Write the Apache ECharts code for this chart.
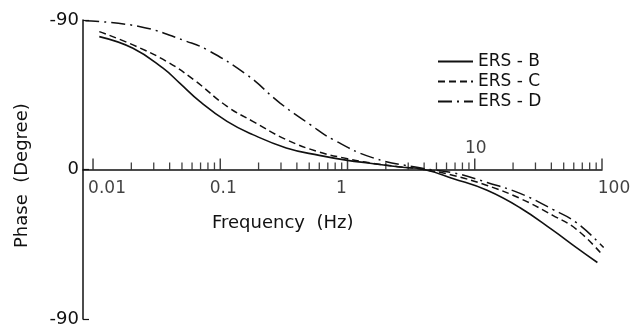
<!DOCTYPE html>
<html>
<head>
<meta charset="utf-8">
<script src="https://cdn.jsdelivr.net/npm/echarts@6/dist/echarts.min.js"></script>
<style>
    html, body { margin: 0; padding: 0; background: #fff; }
    #chart { width: 635px; height: 329px; }
</style>
</head>
<body>
<div id="chart"></div>
<script>
// phase curves: [frequency Hz, phase deg]
var ersB = [[0.0112, 80], [0.0206, 73], [0.0355, 61], [0.048, 52], [0.069, 41], [0.113, 29], [0.18, 21],
    [0.33, 13], [0.6, 8.5], [1.0, 5.5], [1.5, 3.8], [2.6, 1.5], [4, 0], [6.8, -5.5], [12.5, -12.5],
    [22.7, -23], [41, -36.5], [63, -47], [92, -56]];
var ersC = [[0.0112, 83], [0.0206, 75], [0.038, 65], [0.062, 54], [0.113, 38], [0.18, 29], [0.33, 18],
    [0.6, 10.5], [1.0, 6.5], [1.5, 4], [2.5, 1.7], [4, 0], [6.8, -3.6], [12.5, -9.6], [22.7, -17.4],
    [41, -27.6], [63, -36], [97, -50]];
var ersD = [[0.0087, 89.5], [0.0235, 86], [0.055, 77], [0.079, 72], [0.162, 57], [0.295, 40],
    [0.51, 27], [0.77, 18], [1.59, 7], [3.7, 1], [6.8, -2], [12.5, -7.8], [22.7, -14.4], [41, -24],
    [63, -32], [103, -47]];

var seriesNames = ['ERS - B', 'ERS - C', 'ERS - D'];

// axis ticks / labels
var xDecades = [0.01, 0.1, 1, 10, 100];
var xDecadeLabels = ['0.01', '0.1', '1', '10', '100'];
var xLabelAbove = [false, false, false, true, false];
var yTickValues = [-90, 0, 90];
var yTickLabels = ['-90', '0', '-90'];

var fontFam = '"DejaVu Sans", sans-serif';

var minorTicks = [];
xDecades.slice(0, 4).forEach(function (d) {
    for (var k = 2; k <= 9; k++) minorTicks.push([d * k, 0]);
});
var majorTicks = xDecades.map(function (d) { return [d, 0]; });

// nudges so labels sit like the original lettering
var labelNudge = { '0.01': 14, '0.1': 3, '1': -6, '10': 1, '100': 12 };

var tickLabelData = xDecades.map(function (d, i) {
    return {
        value: [d, 0],
        label: {
            show: true,
            formatter: xDecadeLabels[i],
            position: xLabelAbove[i] ? 'top' : 'bottom',
            distance: xLabelAbove[i] ? 12 : 11,
            offset: [labelNudge[xDecadeLabels[i]], 0]
        }
    };
});

var chart = echarts.init(document.getElementById('chart'));

var option = {
    animation: false,
    backgroundColor: '#fff',
    textStyle: { fontFamily: fontFam, color: '#111' },
    grid: { left: 83, right: 33, top: 20, bottom: 10 },
    legend: {
        data: seriesNames,
        orient: 'vertical',
        left: 432,
        top: 48,
        itemWidth: 35,
        itemHeight: 12,
        itemGap: 3,
        itemStyle: { opacity: 0 },
        textStyle: { fontSize: 17, color: '#111', fontFamily: fontFam }
    },
    xAxis: {
        type: 'log',
        logBase: 10,
        min: 0.00834,
        max: 100,
        axisLine: { onZero: true, lineStyle: { color: '#111', width: 1.5 } },
        axisTick: { show: false },
        axisLabel: { show: false },
        splitLine: { show: false }
    },
    yAxis: {
        type: 'value',
        min: -90,
        max: 90,
        interval: 90,
        axisLine: { show: true, lineStyle: { color: '#111', width: 1.5 } },
        axisTick: { show: true, inside: true, length: 6, lineStyle: { color: '#111', width: 1.2 } },
        axisLabel: {
            fontSize: 18,
            color: '#111',
            margin: 4,
            formatter: function (v) {
                var i = yTickValues.indexOf(v);
                return i >= 0 ? yTickLabels[i] : '';
            }
        },
        splitLine: { show: false }
    },
    graphic: [
        {
            type: 'text',
            left: 212,
            top: 214,
            style: { text: 'Frequency  (Hz)', fill: '#111', font: '18px ' + fontFam }
        },
        {
            type: 'text',
            x: 13,
            y: 248,
            rotation: Math.PI / 2,
            style: { text: 'Phase  (Degree)', fill: '#111', font: '18px ' + fontFam }
        }
    ],
    series: [
        {
            name: seriesNames[0],
            type: 'line',
            smooth: 0.45,
            symbol: 'none',
            data: ersB,
            lineStyle: { color: '#111', width: 1.6, type: 'solid' },
            itemStyle: { color: '#111' }
        },
        {
            name: seriesNames[1],
            type: 'line',
            smooth: 0.45,
            symbol: 'none',
            data: ersC,
            lineStyle: { color: '#111', width: 1.5, type: [7, 4] },
            itemStyle: { color: '#111' }
        },
        {
            name: seriesNames[2],
            type: 'line',
            smooth: 0.45,
            symbol: 'none',
            data: ersD,
            lineStyle: { color: '#111', width: 1.5, type: [14, 5, 2, 5] },
            itemStyle: { color: '#111' }
        },
        {
            name: 'minorTicks',
            type: 'scatter',
            silent: true,
            symbol: 'rect',
            symbolSize: [1.3, 7],
            symbolOffset: [0, -3.5],
            itemStyle: { color: '#111' },
            data: minorTicks
        },
        {
            name: 'majorTicks',
            type: 'scatter',
            silent: true,
            symbol: 'rect',
            symbolSize: [1.5, 11],
            symbolOffset: [0, -5.5],
            itemStyle: { color: '#111' },
            data: majorTicks
        },
        {
            name: 'tickLabels',
            type: 'scatter',
            silent: true,
            symbolSize: 0,
            itemStyle: { color: 'transparent' },
            label: { fontSize: 17, color: '#111', fontFamily: fontFam },
            data: tickLabelData
        }
    ]
};

chart.setOption(option);
</script>
</body>
</html>
